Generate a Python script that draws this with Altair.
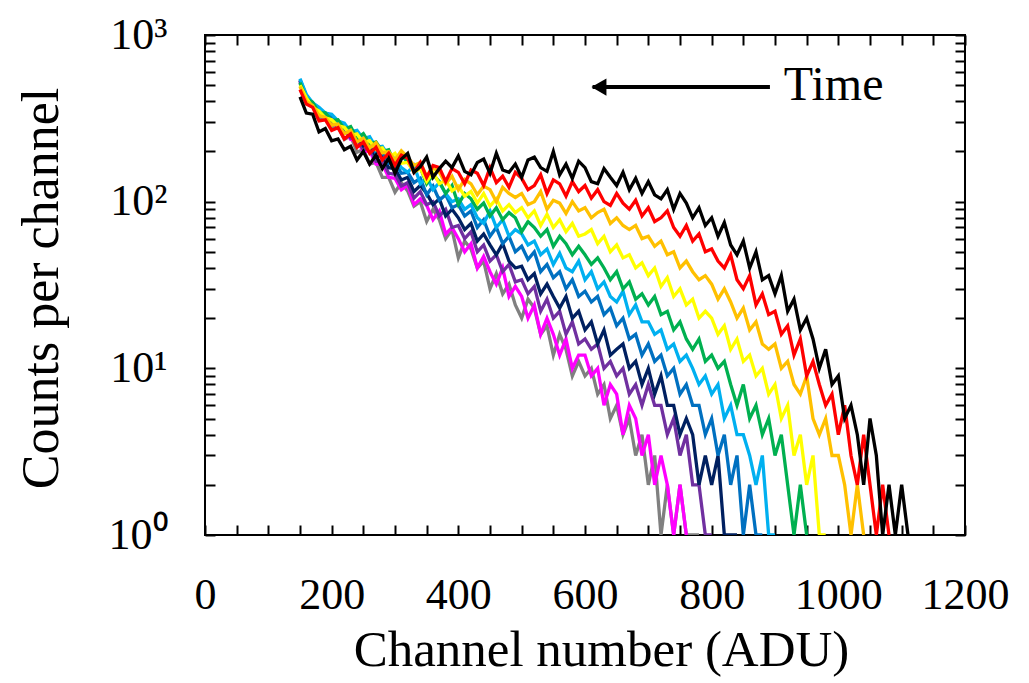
import altair as alt
import pandas as pd

# ---- data (counts per channel, channel step 10 starting at 150) ----
CH_START = 150
CH_STEP = 10

black = [425, 340, 335, 262, 275, 232,
         238, 205, 215, 178, 200, 168, 190, 158, 182,
         148, 180, 195, 150, 162, 185, 140, 158, 175, 160,
         188, 152, 145, 172, 180, 148, 195, 155, 150, 168,
         140, 178, 185, 160, 152, 200, 145, 168, 138, 175,
         160, 132, 128, 158, 140, 125, 150, 118, 138, 112,
         132, 110, 104, 118, 90, 112, 98, 80, 92, 72,
         80, 62, 75, 55, 48, 58, 40, 50, 34, 36,
         28, 36, 22, 26, 17, 20, 15, 10, 13, 8,
         9, 5, 6, 4, 2, 5, 3, 1, 2, 1,
         2, 1]

red = [470, 385, 368, 305, 310, 268,
       278, 238, 255, 212, 228, 195, 212, 178, 195,
       165, 190, 182, 150, 172, 140, 165, 160, 132, 158,
       150, 128, 155, 148, 125, 160, 130, 142, 122, 150,
       138, 118, 125, 145, 112, 135, 128, 108, 132, 115,
       125, 105, 118, 100, 95, 112, 98, 90, 102, 82,
       92, 76, 80, 88, 70, 62, 72, 58, 64, 50,
       52, 44, 40, 48, 34, 30, 36, 24, 28, 21,
       22, 16, 18, 12, 15, 9, 11, 8, 6, 7,
       4, 6, 3, 2, 4, 2, 1, 2, 1]

orange = [490, 400, 378, 328, 320, 288,
          292, 255, 268, 228, 240, 210, 226, 196, 200,
          178, 202, 185, 165, 172, 142, 160, 150, 128, 142,
          118, 136, 128, 110, 124, 118, 100, 122, 112, 106,
          112, 96, 100, 115, 90, 102, 98, 85, 100, 88,
          92, 80, 86, 90, 74, 80, 72, 68, 72, 60,
          62, 54, 58, 48, 50, 40, 44, 38, 34, 36,
          32, 26, 30, 25, 20, 23, 17, 19, 14, 13,
          14, 10, 11, 8, 7, 9, 5, 4, 5, 3,
          3, 2, 1, 2, 1]

yellow = [500, 420, 368, 350, 318, 310,
          285, 280, 250, 255, 226, 232, 205, 210, 184,
          195, 170, 172, 150, 158, 132, 150, 128, 135, 116,
          124, 108, 115, 98, 112, 94, 104, 88, 96, 86,
          92, 80, 88, 72, 84, 70, 78, 66, 74, 62,
          64, 68, 56, 62, 50, 55, 46, 48, 40, 43,
          36, 40, 31, 35, 27, 30, 24, 26, 20, 22,
          20, 16, 18, 13, 15, 11, 12, 9, 10, 7,
          8, 5, 6, 3, 4, 2, 3, 1, 1]

green = [518, 415, 395, 340, 342, 306,
         310, 272, 282, 240, 256, 222, 228, 200, 205,
         168, 192, 172, 155, 160, 128, 145, 132, 112, 125,
         96, 112, 104, 90, 98, 82, 92, 78, 86, 80,
         66, 76, 70, 62, 68, 54, 62, 56, 48, 54,
         48, 42, 46, 40, 34, 38, 30, 33, 26, 28,
         24, 27, 21, 22, 17, 19, 15, 13, 15, 11,
         12, 10, 11, 8, 6, 8, 5, 6, 4, 5,
         3, 4, 2, 1, 2, 1]

lightblue = [548, 440, 392, 368, 340, 335,
             305, 296, 262, 268, 238, 245, 212, 215, 188,
             182, 160, 150, 165, 128, 140, 118, 130, 112, 100,
             104, 90, 96, 80, 74, 88, 70, 78, 62, 68,
             64, 55, 58, 48, 52, 42, 49, 40, 38, 44,
             34, 38, 30, 33, 27, 25, 29, 21, 24, 19,
             19, 16, 17, 13, 14, 11, 12, 10, 8, 9,
             7, 8, 5, 6, 4, 4, 3, 2, 3, 1,
             1]

blue = [540, 432, 385, 362, 330, 326,
        298, 290, 255, 258, 226, 230, 196, 198, 170,
        172, 148, 150, 130, 138, 110, 124, 102, 110, 92,
        96, 82, 88, 70, 78, 62, 70, 56, 62, 50,
        54, 45, 50, 38, 42, 35, 38, 30, 34, 27,
        29, 25, 27, 21, 23, 18, 20, 15, 16, 12,
        14, 11, 12, 9, 10, 7, 8, 6, 6, 4,
        5, 3, 4, 2, 3, 1, 2, 1, 1]

navy = [532, 430, 380, 360, 322, 318,
        288, 282, 248, 250, 216, 222, 186, 190, 160,
        158, 135, 140, 115, 125, 112, 96, 104, 82, 90,
        80, 68, 74, 58, 64, 55, 48, 56, 44, 40,
        41, 34, 37, 28, 32, 27, 23, 27, 20, 22,
        17, 19, 14, 17, 12, 13, 14, 10, 11, 8,
        10, 7, 9, 6, 6, 4, 5, 4, 2, 3,
        2, 3, 1, 1, 1]

purple = [528, 420, 372, 352, 315, 305,
          280, 276, 240, 238, 205, 210, 175, 176, 148,
          146, 124, 130, 105, 115, 96, 100, 82, 90, 70,
          72, 60, 66, 50, 55, 44, 48, 38, 42, 33,
          34, 28, 31, 22, 26, 20, 22, 16, 19, 14,
          15, 13, 14, 10, 11, 9, 10, 7, 8, 6,
          8, 6, 6, 4, 5, 3, 4, 2, 2, 1,
          1]

magenta = [530, 425, 372, 350, 312, 305,
           275, 270, 236, 232, 200, 202, 168, 168, 140,
           138, 118, 126, 96, 104, 95, 78, 88, 64, 70,
           60, 50, 56, 40, 47, 38, 32, 40, 27, 31,
           27, 20, 24, 16, 20, 16, 12, 15, 10, 12,
           12, 9, 10, 6, 8, 7, 4, 6, 5, 3,
           4, 2, 3, 2, 1, 2, 1]

gray = [515, 395, 378, 315, 318, 278,
        282, 236, 248, 198, 206, 168, 172, 140, 140,
        114, 130, 116, 94, 100, 76, 90, 78, 60, 68,
        46, 58, 52, 40, 44, 30, 37, 28, 32, 24,
        20, 26, 23, 16, 18, 12, 16, 13, 9, 11,
        9, 10, 7, 8, 5, 6, 4, 5, 3, 4,
        2, 3, 1, 2, 1, 2, 1, 1, 1]

# drawing order: latest (gray) at the back, earliest (black) in front
series = [
    ("gray", "#808080", gray),
    ("magenta", "#FF00FF", magenta),
    ("purple", "#7030A0", purple),
    ("navy", "#002060", navy),
    ("blue", "#0070C0", blue),
    ("lightblue", "#00B0F0", lightblue),
    ("green", "#00B050", green),
    ("yellow", "#FFFF00", yellow),
    ("orange", "#FFC000", orange),
    ("red", "#FF0000", red),
    ("black", "#000000", black),
]

x_ticks = list(range(0, 1201, 50))
y_ticks = [m * 10 ** e for e in range(3) for m in range(1, 10)] + [1000]

# annotation (data coordinates)
arrow_x = [612, 892]
arrow_y = [487]
time_x = [914]
time_y = [405]
time_text = ["Time"]

FONT = "Liberation Serif"

xscale = alt.Scale(domain=[0, 1200], nice=False, zero=False)
yscale = alt.Scale(type="log", domain=[1, 1000], nice=False)

y_label_expr = ("datum.value == 1 ? '10\u2070' : datum.value == 10 ? '10\u00b9' : "
                "datum.value == 100 ? '10\u00b2' : datum.value == 1000 ? '10\u00b3' : ''")

axis_common = dict(tickSize=10, offset=-10, domain=False, tickColor="black",
                   tickWidth=2, grid=False, labelFont=FONT, titleFont=FONT,
                   labelColor="black", titleColor="black", titleFontWeight="normal")

x_bottom = alt.Axis(orient="bottom", values=x_ticks, format="d",
                    labelExpr="datum.value % 200 == 0 ? datum.label : ''",
                    labelFontSize=44, labelPadding=38, labelFlush=False, labelOverlap=False,
                    title="Channel number (ADU)", titleFontSize=51,
                    titleX=396, titleY=140, titleBaseline="alphabetic", titleAlign="center",
                    **axis_common)
y_left = alt.Axis(orient="left", values=y_ticks, labelExpr=y_label_expr,
                  labelFontSize=44, labelPadding=38, labelOverlap=False, labelFlush=False,
                  title="Counts per channel", titleFontSize=52, titleAngle=270,
                  titleX=-158, titleY=253, titleBaseline="alphabetic", titleAlign="center",
                  **axis_common)
x_top = alt.Axis(orient="top", values=x_ticks, labels=False, title=None, **axis_common)
y_right = alt.Axis(orient="right", values=y_ticks, labels=False, title=None, **axis_common)

layers = []
n = len(series)
for i, (name, color, vals) in enumerate(series):
    df = pd.DataFrame({"ch": [CH_START + CH_STEP * k for k in range(len(vals))],
                       "counts": vals})
    if i == 0:
        xa, ya = x_bottom, y_left
    elif i == n - 1:
        xa, ya = x_top, y_right
    else:
        xa, ya = None, None
    layers.append(
        alt.Chart(df).mark_line(color=color, strokeWidth=3.3, clip=True).encode(
            x=alt.X("ch:Q", scale=xscale, axis=xa),
            y=alt.Y("counts:Q", scale=yscale, axis=ya),
        )
    )

arrow_df = pd.DataFrame({"x0": [arrow_x[0]], "x1": [arrow_x[1]], "y": arrow_y})
arrow_line = alt.Chart(arrow_df).mark_rule(color="black", strokeWidth=4).encode(
    x=alt.X("x0:Q", scale=xscale, axis=None),
    x2="x1:Q",
    y=alt.Y("y:Q", scale=yscale, axis=None),
)
head_df = pd.DataFrame({"x": [arrow_x[0] + 10], "y": arrow_y})
arrow_head = alt.Chart(head_df).mark_point(shape="triangle-left", filled=True, size=300,
                                           color="black", opacity=1).encode(
    x=alt.X("x:Q", scale=xscale, axis=None),
    y=alt.Y("y:Q", scale=yscale, axis=None),
)
text_df = pd.DataFrame({"x": time_x, "y": time_y, "t": time_text})
time_label = alt.Chart(text_df).mark_text(font=FONT, fontSize=48, align="left",
                                          baseline="alphabetic", color="black").encode(
    x=alt.X("x:Q", scale=xscale, axis=None),
    y=alt.Y("y:Q", scale=yscale, axis=None),
    text="t:N",
)

chart = alt.layer(*layers, arrow_line, arrow_head, time_label).resolve_axis(
    x="independent", y="independent"
).properties(
    width=760, height=500,
    autosize=alt.AutoSizeParams(type="none"),
    padding={"left": 205, "top": 35, "right": 64, "bottom": 148},
    background="white",
).configure_view(stroke="black", strokeWidth=2)

chart.save("out.html", embed_options={"renderer": "svg", "actions": False})
